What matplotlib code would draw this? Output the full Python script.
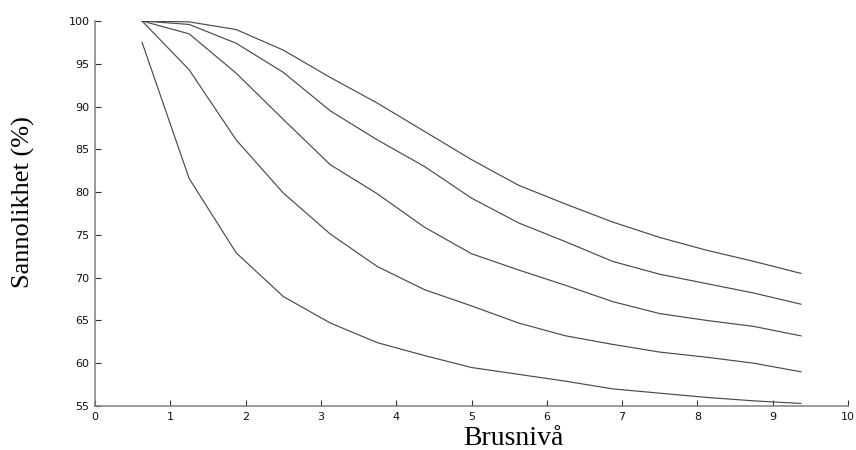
"""Sannolikhet vs brusnivå, MATLAB-style line chart."""

import matplotlib
matplotlib.use("Agg")
import matplotlib.pyplot as plt

# brusnivå (x) and five probability curves (%)
brusniva = [0.625, 1.25, 1.875, 2.5, 3.125, 3.75, 4.375, 5.0,
            5.625, 6.25, 6.875, 7.5, 8.125, 8.75, 9.375]
kurva_1 = [100, 99.9, 99.0, 96.6, 93.4, 90.4, 87.1, 83.8, 80.8, 78.6, 76.5, 74.7, 73.2, 71.9, 70.5]
kurva_2 = [100, 99.6, 97.4, 94.0, 89.5, 86.1, 83.0, 79.3, 76.4, 74.2, 71.9, 70.4, 69.3, 68.2, 66.9]
kurva_3 = [100, 98.5, 93.9, 88.5, 83.2, 79.8, 75.9, 72.8, 70.9, 69.1, 67.2, 65.8, 65.0, 64.3, 63.2]
kurva_4 = [100, 94.3, 86.1, 79.9, 75.1, 71.3, 68.6, 66.7, 64.7, 63.2, 62.2, 61.3, 60.7, 60.0, 59.0]
kurva_5 = [97.5, 81.6, 72.9, 67.8, 64.7, 62.4, 60.9, 59.5, 58.7, 57.9, 57.0, 56.5, 56.0, 55.6, 55.3]

x_ticks = list(range(0, 11))
y_ticks = list(range(55, 101, 5))

fig = plt.figure(figsize=(8.56, 4.5), dpi=100)
fig.patch.set_facecolor("white")
ax = fig.add_axes([95 / 856, 1 - 406 / 450, 753 / 856, 385 / 450])

for kurva in (kurva_1, kurva_2, kurva_3, kurva_4, kurva_5):
    ax.plot(brusniva, kurva, color="#4a4a4a", linewidth=0.85)

ax.set_xlim(0, 10)
ax.set_ylim(55, 100)
ax.set_xticks(x_ticks)
ax.set_yticks(y_ticks)

for side in ("top", "right"):
    ax.spines[side].set_visible(False)
for side in ("left", "bottom"):
    ax.spines[side].set_color("#808080")
    ax.spines[side].set_linewidth(1.1)

ax.tick_params(direction="in", length=4, width=0.8, color="#333333",
               labelsize=8, labelcolor="#111111", pad=4)
for lbl in ax.get_xticklabels() + ax.get_yticklabels():
    lbl.set_fontfamily("DejaVu Sans")

ax.set_xlabel("Brusnivå", family="Liberation Serif", fontsize=20, va="center")
ax.xaxis.set_label_coords(0.556, -0.0857)
ax.set_ylabel("Sannolikhet (%)", family="Liberation Serif", fontsize=19, va="center")
ax.yaxis.set_label_coords(-0.0956, 0.53)

fig.savefig("out.png", dpi=100, facecolor="white")
